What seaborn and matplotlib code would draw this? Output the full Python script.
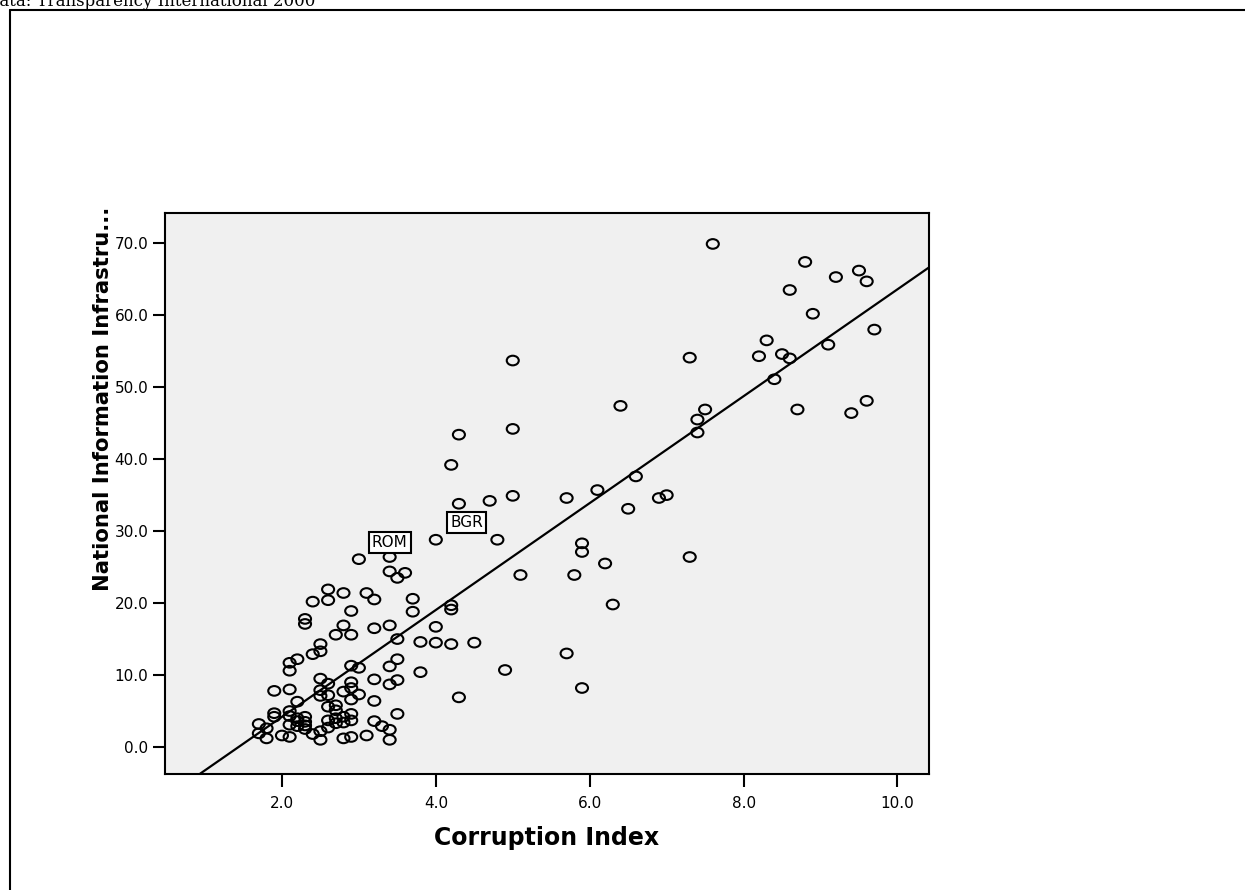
import numpy as np
import pandas as pd
import matplotlib
matplotlib.use("Agg")
import matplotlib.pyplot as plt
import seaborn as sns
from matplotlib.path import Path
from matplotlib.transforms import Affine2D
from matplotlib.lines import Line2D

# Corruption Index (x) and National Information Infrastructure score (y) per country
corruption_index = [
    7.6, 8.8, 9.5, 9.2, 9.6, 8.6, 8.9, 9.7, 8.3, 9.1, 8.5, 8.2, 7.3, 8.6, 5.0,
    8.4, 9.6, 6.4, 7.5, 8.7, 9.4, 7.4, 5.0, 7.4, 4.3, 4.2, 6.6, 6.1, 7.0, 5.0,
    6.9, 5.7, 4.7, 4.3, 6.5, 4.0, 4.8, 5.9, 5.9, 7.3, 3.4, 3.0, 6.2, 3.4, 3.6,
    5.1, 5.8, 3.5, 2.6, 2.8, 3.1, 3.7, 3.2, 2.6, 2.4, 6.3, 4.2, 4.2, 2.9, 3.7,
    2.3, 2.3, 2.8, 3.4, 4.0, 3.2, 2.7, 2.9, 3.5, 3.8, 4.0, 4.5, 4.2, 2.5, 2.5,
    5.7, 2.4, 2.2, 3.5, 2.1, 2.9, 3.4, 3.0, 4.9, 2.1, 3.8, 2.5, 3.2, 3.5, 2.9,
    2.6, 3.4, 2.9, 5.9, 2.1, 2.5, 1.9, 2.8, 3.0, 2.6, 2.5, 4.3, 2.9, 3.2, 2.2,
    2.6, 2.7, 2.7, 2.1, 1.9, 3.5, 2.9, 2.1, 1.9, 2.8, 2.7, 2.2, 2.3, 2.2, 2.3,
    2.6, 2.9, 3.2, 2.8, 1.7, 2.7, 2.1, 2.3, 2.2, 3.3, 1.8, 2.6, 2.3, 3.4, 2.5,
    1.7, 2.4, 2.0, 3.1, 2.1, 2.9, 1.8, 2.8, 2.5, 3.4,
]
info_infrastructure = [
    69.9, 67.4, 66.2, 65.3, 64.7, 63.5, 60.2, 58.0, 56.5, 55.9, 54.6, 54.3, 54.1, 54.0, 53.7,
    51.1, 48.1, 47.4, 46.9, 46.9, 46.4, 45.5, 44.2, 43.7, 43.4, 39.2, 37.6, 35.7, 35.0, 34.9,
    34.6, 34.6, 34.2, 33.8, 33.1, 28.8, 28.8, 28.3, 27.1, 26.4, 26.4, 26.1, 25.5, 24.4, 24.2,
    23.9, 23.9, 23.5, 21.9, 21.4, 21.4, 20.6, 20.5, 20.4, 20.2, 19.8, 19.7, 19.1, 18.9, 18.8,
    17.8, 17.1, 16.9, 16.9, 16.7, 16.5, 15.6, 15.6, 15.0, 14.6, 14.5, 14.5, 14.3, 14.3, 13.3,
    13.0, 12.9, 12.2, 12.2, 11.7, 11.3, 11.2, 11.0, 10.7, 10.6, 10.4, 9.5, 9.4, 9.3, 9.0,
    8.8, 8.7, 8.2, 8.2, 8.0, 7.9, 7.8, 7.7, 7.3, 7.2, 7.1, 6.9, 6.6, 6.4, 6.3,
    5.6, 5.8, 5.1, 5.0, 4.7, 4.6, 4.6, 4.3, 4.2, 4.2, 4.0, 4.0, 4.2, 3.6, 3.5,
    3.7, 3.7, 3.6, 3.4, 3.2, 3.3, 3.1, 3.0, 2.9, 2.9, 2.6, 2.7, 2.5, 2.4, 2.2,
    1.9, 1.8, 1.6, 1.6, 1.4, 1.4, 1.2, 1.2, 1.0, 1.0,
]

# Country codes shown as boxed labels
case_labels = ["ROM", "BGR"]
case_label_x = [3.4, 4.4]
case_label_y = [28.4, 31.2]

x_ticks = [2.0, 4.0, 6.0, 8.0, 10.0]
y_ticks = [0.0, 10.0, 20.0, 30.0, 40.0, 50.0, 60.0, 70.0]

df = pd.DataFrame({"cpi": corruption_index, "nii": info_infrastructure})

sns.set_style("ticks", {"axes.facecolor": "#F0F0F0", "axes.edgecolor": "black",
                        "text.color": "black", "axes.labelcolor": "black",
                        "xtick.color": "black", "ytick.color": "black"})
plt.rcParams["font.family"] = ["DejaVu Sans"]

W, H = 1245, 890
fig = plt.figure(figsize=(W / 100, H / 100), dpi=100)
fig.patch.set_facecolor("white")

ax_l, ax_r, ax_t, ax_b = 165, 929, 213, 774
ax = fig.add_axes([ax_l / W, 1 - ax_b / H, (ax_r - ax_l) / W, (ax_b - ax_t) / H])

# open ellipse marker, slightly wider than tall
ellipse = Path.unit_circle().transformed(Affine2D().scale(1.25, 1.0))

ax.set_xlim(0.48, 10.41)
ax.set_ylim(-3.75, 74.2)

sns.scatterplot(data=df, x="cpi", y="nii", marker=ellipse, s=75,
                facecolor="none", edgecolor="black", linewidth=1.5,
                ax=ax, zorder=3, legend=False)
sns.regplot(data=df, x="cpi", y="nii", scatter=False, ci=None, truncate=False,
            line_kws=dict(color="black", lw=1.6, zorder=2), ax=ax)

ax.set_xlim(0.48, 10.41)
ax.set_ylim(-3.75, 74.2)

ax.set_xticks(x_ticks)
ax.set_xticklabels([f"{v:.1f}" for v in x_ticks])
ax.set_yticks(y_ticks)
ax.set_yticklabels([f"{v:.1f}" for v in y_ticks])
ax.tick_params(axis="both", direction="out", length=9, width=1.5,
               labelsize=11, colors="black", labelcolor="black")
ax.tick_params(axis="x", pad=7)
ax.tick_params(axis="y", pad=3)

for sp in ax.spines.values():
    sp.set_linewidth(1.5)
    sp.set_color("black")
    sp.set_visible(True)

ax.set_xlabel("Corruption Index", fontsize=17, fontweight="bold", color="black",
              labelpad=11)
ax.set_ylabel("National Information Infrastru...", fontsize=15.2, fontweight="bold",
              color="black", va="center")
ax.yaxis.set_label_coords(-0.0815, 0.668)

for name, lx, ly in zip(case_labels, case_label_x, case_label_y):
    ax.text(lx, ly, name, ha="center", va="center", fontsize=11, color="black",
            zorder=5,
            bbox=dict(boxstyle="square,pad=0.2", fc="white", ec="black", lw=1.5))

# outer frame of the chart panel
fig.add_artist(Line2D([10 / W, 10 / W], [0, 1 - 10 / H], color="black", lw=1.5,
                      transform=fig.transFigure))
fig.add_artist(Line2D([10 / W, 1], [1 - 10 / H, 1 - 10 / H], color="black", lw=1.5,
                      transform=fig.transFigure))

fig.text(-14 / W, 1 - 6 / H, "Data: Transparency International 2000",
         family="DejaVu Serif", fontsize=12, color="black", ha="left", va="baseline")

fig.savefig("out.png", dpi=100)
